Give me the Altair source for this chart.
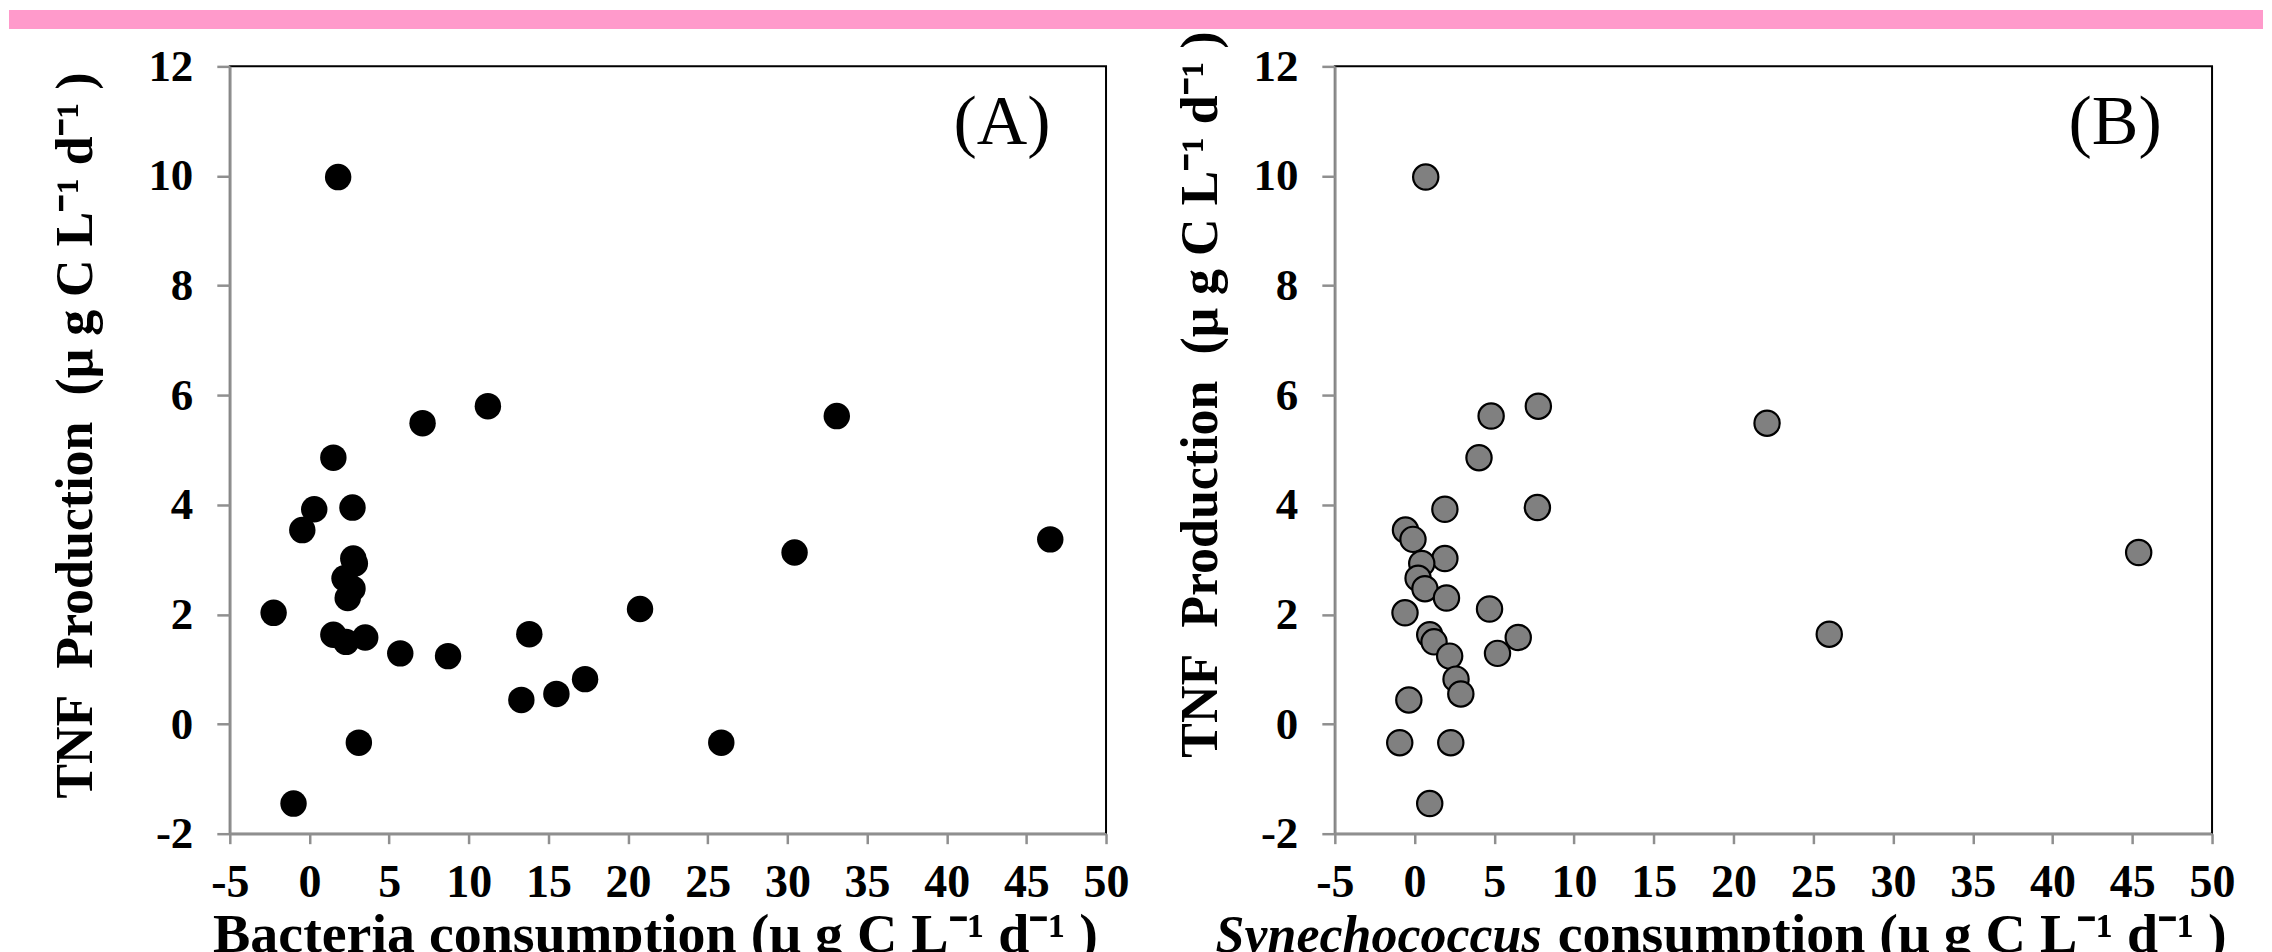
import altair as alt
import pandas as pd

FONT = "Liberation Serif"

# TNF production (shared y values)
tnf = [9.98, 5.80, 5.62, 5.49, 4.86, 3.95, 3.92, 3.54, 3.37, 3.13, 3.02, 2.93, 2.66, 2.47,
       2.30, 2.10, 2.03, 1.64, 1.63, 1.58, 1.50, 1.29, 1.24, 0.82, 0.55, 0.44, -0.34, -0.34, -1.45]
# Bacteria consumption (panel A x values)
bacteria = [1.8, 11.2, 33.1, 7.1, 1.5, 2.7, 0.3, -0.45, 46.5, 30.45, 2.75, 2.85, 2.2, 2.7,
            2.4, 20.75, -2.25, 13.8, 1.5, 3.5, 2.3, 5.7, 8.7, 17.3, 15.5, 13.3, 3.1, 25.85, -1.0]
# Synechococcus consumption (panel B x values)
synechococcus = [0.7, 7.76, 4.8, 22.1, 4.04, 7.7, 1.9, -0.57, -0.1, 45.4, 1.9, 0.45, 0.22, 0.65,
                 2.0, 4.7, -0.6, 26.0, 0.95, 6.5, 1.22, 5.2, 2.2, 2.6, 2.9, -0.36, -0.93, 2.27, 0.95]

x_ticks = [-5, 0, 5, 10, 15, 20, 25, 30, 35, 40, 45, 50]
y_ticks = [-2, 0, 2, 4, 6, 8, 10, 12]

y_title = "TNF\u00a0 Production\u00a0 (\u03bc g C L\u207b\u00b9 d\u207b\u00b9 )"
x_title_a = "Bacteria consumption (\u03bc g C L\u207b\u00b9 d\u207b\u00b9 )"
x_title_b_italic = "Synechococcus"
x_title_b_rest = "consumption (\u03bc g C L\u207b\u00b9 d\u207b\u00b9 )"
panel_labels = ["(A)", "(B)"]

W_A, W_B, H = 877, 878, 768


def txt(s, x, y, size, angle=0, align="center", baseline="alphabetic",
        style="normal", weight="bold"):
    return alt.Chart(alt.Data(values=[{"t": s}])).mark_text(
        font=FONT, fontSize=size, fontWeight=weight, fontStyle=style,
        align=align, baseline=baseline, angle=angle, color="black"
    ).encode(x=alt.value(x), y=alt.value(y), text="t:N")


def points(xvals, fill, stroke, size, sw):
    df = pd.DataFrame({"x": xvals, "y": tnf})
    return alt.Chart(df).mark_circle(
        size=size, fill=fill, stroke=stroke, strokeWidth=sw, opacity=1
    ).encode(
        x=alt.X("x:Q", scale=alt.Scale(domain=[-5, 50], nice=False, zero=False),
                axis=alt.Axis(values=x_ticks, title=None)),
        y=alt.Y("y:Q", scale=alt.Scale(domain=[-2, 12], nice=False, zero=False),
                axis=alt.Axis(values=y_ticks, title=None)),
    )


band = alt.Chart(alt.Data(values=[{"k": 1}])).mark_rect(color="#FF9ACB").encode(
    x=alt.value(-221), x2=alt.value(2035), y=alt.value(-56.5), y2=alt.value(-37.5)
)

panel_a = alt.layer(
    band,
    points(bacteria, "black", "black", 700, 0),
    txt(y_title, -138, 369.5, 52, angle=270),
    txt(x_title_a, 426, 886, 56),
    txt(panel_labels[0], 773, 56.5, 70, baseline="middle", weight="normal"),
).properties(width=W_A, height=H)

panel_b = alt.layer(
    points(synechococcus, "#808080", "black", 640, 2.2),
    txt(y_title, -118, 328.5, 52, angle=270),
    txt(x_title_b_italic, 207, 886, 52, align="right", style="italic"),
    txt(x_title_b_rest, 223, 886, 56, align="left"),
    txt(panel_labels[1], 781, 56.5, 70, baseline="middle", weight="normal"),
).properties(width=W_B, height=H)

chart = alt.hconcat(panel_a, panel_b, spacing=229, bounds="flush").properties(
    padding=0, autosize=alt.AutoSizeParams(type="pad")
).configure(background="white").configure_view(
    stroke="black", strokeWidth=2
).configure_axis(
    domainColor="#8f8f8f", domainWidth=2.5, tickColor="#8f8f8f", tickWidth=2.5,
    labelFont=FONT, labelFontWeight="bold", labelColor="black", grid=False,
    labelOverlap=False, labelFlush=False, zindex=1,
    labelExpr="replace(datum.label, '\u2212', '-')"
).configure_axisX(
    tickSize=10, labelFontSize=46, labelPadding=17
).configure_axisY(
    tickSize=13, labelFontSize=45, labelPadding=24
)

chart.save("out.html", embed_options={"renderer": "svg", "actions": False})
